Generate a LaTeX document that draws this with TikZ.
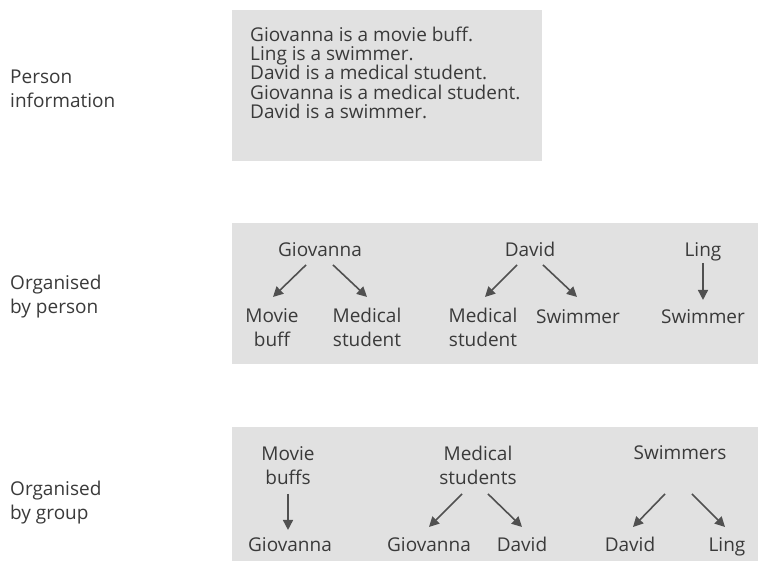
\documentclass[tikz,border=0pt]{standalone}
\usepackage{fontspec}
\setmainfont{Open Sans}
\usetikzlibrary{arrows.meta,calc}
\definecolor{boxgray}{HTML}{E1E1E1}
\definecolor{txtgray}{HTML}{3A3A3A}
\definecolor{arrgray}{HTML}{505050}
\begin{document}
\begin{tikzpicture}[x=1pt,y=-1pt,
  lbl/.style={inner sep=0pt,text height=13.5pt,text depth=0pt,align=center,text=txtgray,font=\fontsize{19}{24.5}\selectfont},
  side/.style={lbl,align=left,anchor=west},
  panel/.style={fill=boxgray,draw=none},
  arr/.style={draw=arrgray,line width=1.6pt,-{Triangle[length=10pt,width=10pt]}}]
\path[use as bounding box,fill=white] (0,0) rectangle (758,561);
% panels
\path[panel] (232,10) rectangle (542,161);
\path[panel] (232,223) rectangle (758,364);
\path[panel] (232,427) rectangle (758,561);
% side labels (node centre = last line)
\node[side] (pinfo) at (10,101) {Person\\information};
\node[side] (byperson) at (10,307) {Organised\\by person};
\node[side] (bygroup) at (10,513) {Organised\\by group};
% panel 1
\node[lbl,align=left,anchor=west,font=\fontsize{19}{19.4}\selectfont] (facts) at (250,112)
 {Giovanna is a movie buff.\\Ling is a swimmer.\\David is a medical student.\\Giovanna is a medical student.\\David is a swimmer.};
% panel 2
\node[lbl] (giov) at (320,250) {Giovanna};
\node[lbl] (david) at (530,250) {David};
\node[lbl] (ling) at (703,250) {Ling};
\node[lbl] (gmb) at (272,340) {Movie\\buff};
\node[lbl] (gms) at (367,340) {Medical\\student};
\node[lbl] (dms) at (483,340) {Medical\\student};
\node[lbl] (dsw) at (578,317) {Swimmer};
\node[lbl] (lsw) at (703,317) {Swimmer};
\draw[arr] (giov.south) ++(-14,8) -- ++(-33,32);
\draw[arr] (giov.south) ++(13,8) -- ++(34,32);
\draw[arr] (david.south) ++(-13,8) -- ++(-32,32);
\draw[arr] (david.south) ++(13,8) -- ++(34,32);
\draw[arr] (ling.south) ++(0,6) -- ++(0,37);
% panel 3
\node[lbl] (mbuffs) at (288,478) {Movie\\buffs};
\node[lbl] (mstud) at (478,478) {Medical\\students};
\node[lbl] (swims) at (680,453) {Swimmers};
\node[lbl] (bg) at (290,545) {Giovanna};
\node[lbl] (sg) at (429,545) {Giovanna};
\node[lbl] (sd) at (522,545) {David};
\node[lbl] (wd) at (630,545) {David};
\node[lbl] (wl) at (727,545) {Ling};
\draw[arr] (mbuffs.south) ++(0,9) -- ++(0,36);
\draw[arr] (mstud.south) ++(-16,9) -- ++(-33,33);
\draw[arr] (mstud.south) ++(10,9) -- ++(34,33);
\draw[arr] (swims.south) ++(-15,34) -- ++(-32,33);
\draw[arr] (swims.south) ++(12,34) -- ++(33,33);
\end{tikzpicture}
\end{document}
